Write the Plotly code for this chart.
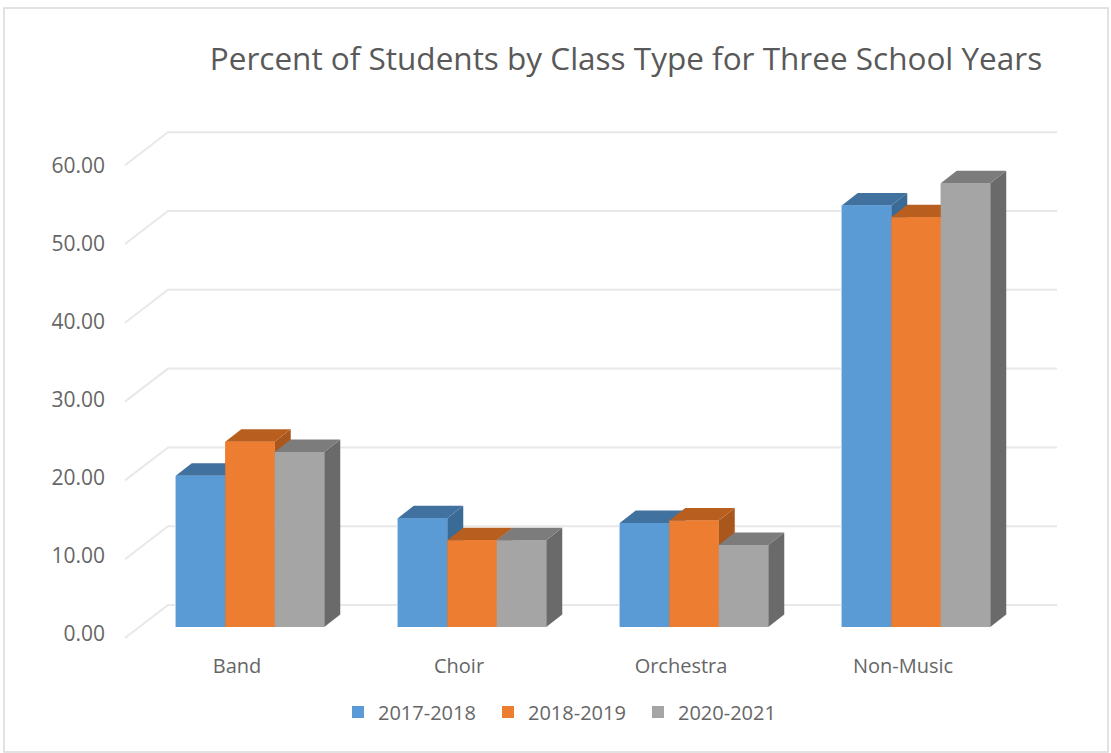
import plotly.graph_objects as go

categories = ["Band", "Choir", "Orchestra", "Non-Music"]
series_names = ["2017-2018", "2018-2019", "2020-2021"]
values_2017 = [19.2, 13.8, 13.2, 53.5]
values_2018 = [23.5, 11.0, 13.5, 52.0]
values_2020 = [22.2, 11.0, 10.4, 56.3]
axis_values = [0, 10, 20, 30, 40, 50, 60]
axis_labels = ["0.00", "10.00", "20.00", "30.00", "40.00", "50.00", "60.00"]

series = [values_2017, values_2018, values_2020]
front = ["#5B9BD5", "#ED7D31", "#A5A5A5"]
top = ["#41719F", "#B85F1F", "#7C7C7C"]
side = ["#3A6A96", "#A9571D", "#6A6A6A"]

W, H = 1111, 753
L, R, T, B = 106, 1105, 100, 652   # plot rect in px
PXU, PYU = 222.0, 7.88            # px per data unit
X0, Y0 = 250.0, 627.0             # px of category 0 centre / bar floor
fx = lambda px: (px - X0) / PXU
fy = lambda py: (Y0 - py) / PYU

bw = 49.5 / PXU
dx, dy = 16 / PXU, 12.5 / PYU

fig = go.Figure()

for s, name, c in zip(range(3), series_names, front):
    fig.add_trace(go.Bar(x=list(range(4)), y=series[s], name=name, width=bw,
                         offset=(s - 1.5) * bw, marker=dict(color=c, line_width=0)))

for v in axis_values:
    fig.add_trace(go.Scatter(
        x=[fx(125), fx(168), fx(1057)],
        y=[v + fy(638), v + fy(605), v + fy(605)],
        mode="lines", line=dict(color="#E8E8E8", width=2),
        showlegend=False, hoverinfo="skip"))

def poly(xs, ys, color):
    fig.add_trace(go.Scatter(x=xs, y=ys, fill="toself", fillcolor=color, mode="lines",
                             line=dict(width=0, color=color), showlegend=False, hoverinfo="skip"))

for c in range(4):
    for s in range(3):
        v = series[s][c]
        x1 = c + (s - 1.5) * bw
        x2 = x1 + bw
        poly([x2, x2 + dx, x2 + dx, x2], [0, dy, v + dy, v], side[s])
        poly([x1, x2, x2 + dx, x1 + dx], [v, v, v + dy, v + dy], top[s])
        poly([x1, x2, x2, x1], [0, 0, v, v], front[s])

fig.update_layout(
    width=W, height=H, barmode="overlay", plot_bgcolor="rgba(0,0,0,0)", paper_bgcolor="white",
    margin=dict(l=L, r=W - R, t=T, b=H - B, pad=0, autoexpand=False),
    font=dict(family="Open Sans", color="#666666", size=20),
    title=dict(text="Percent of Students by Class Type for Three School Years",
               font=dict(size=31.5, color="#595959", family="Open Sans"),
               x=626 / W, xanchor="center", y=1 - 59 / H, yanchor="middle"),
    legend=dict(orientation="h", x=(338 - L) / (R - L), xanchor="left", y=(B - 712) / (B - T), yanchor="middle",
                itemwidth=30, font=dict(size=20), traceorder="normal", entrywidth=105, entrywidthmode="pixels",
                bgcolor="rgba(0,0,0,0)"),
    xaxis=dict(range=[fx(L), fx(R)], tickvals=[i - 13 / PXU for i in range(4)], ticktext=categories,
               showgrid=False, zeroline=False, showline=False, ticks="", automargin=False),
    yaxis=dict(range=[fy(B), fy(T)], tickvals=[fy(634 - 7.8 * v) for v in axis_values], ticktext=axis_labels,
               showgrid=False, zeroline=False, showline=False, ticks="", automargin=False,
               tickfont=dict(size=21)),
    shapes=[dict(type="rect", xref="paper", yref="paper", layer="below",
                 x0=(4 - L) / (R - L), x1=(1108 - L) / (R - L),
                 y0=(B - 752) / (B - T), y1=(B - 8) / (B - T),
                 line=dict(color="#D9D9D9", width=1.5), fillcolor="rgba(0,0,0,0)")],
)

fig.write_html("out.html", config={"displayModeBar": False},
               post_script="document.body.style.margin='0';")
